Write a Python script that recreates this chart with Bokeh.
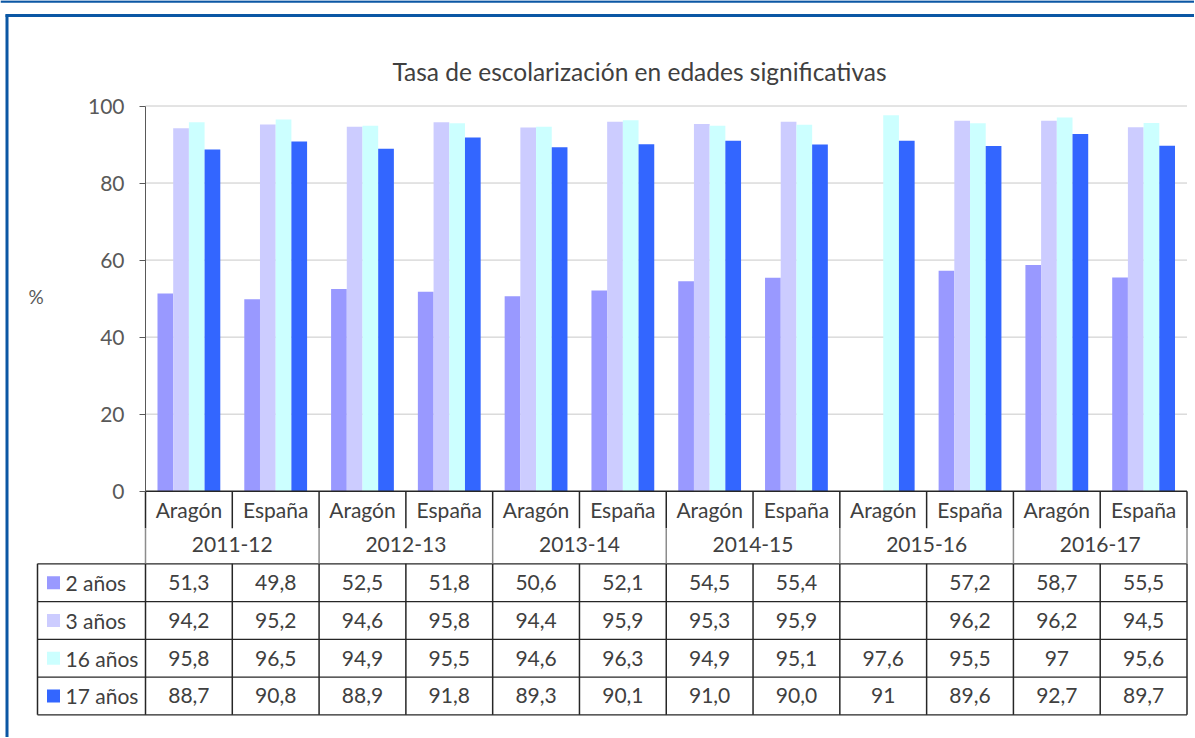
import math
from bokeh.plotting import figure
from bokeh.models import Range1d, LinearAxis, FixedTicker, Grid
from bokeh.core.properties import value
from bokeh.embed import file_html
from bokeh.resources import INLINE

# ---------------- data ----------------
title_text = "Tasa de escolarización en edades significativas"
y_label = "%"
years = ["2011-12", "2012-13", "2013-14", "2014-15", "2015-16", "2016-17"]
regions = ["Aragón", "España"]
series_names = ["2 años", "3 años", "16 años", "17 años"]
series_colors = ["#9999FF", "#CCCCFF", "#CCFFFF", "#3366FF"]
age2 = ["51,3", "49,8", "52,5", "51,8", "50,6", "52,1", "54,5", "55,4", "", "57,2", "58,7", "55,5"]
age3 = ["94,2", "95,2", "94,6", "95,8", "94,4", "95,9", "95,3", "95,9", "", "96,2", "96,2", "94,5"]
age16 = ["95,8", "96,5", "94,9", "95,5", "94,6", "96,3", "94,9", "95,1", "97,6", "95,5", "97", "95,6"]
age17 = ["88,7", "90,8", "88,9", "91,8", "89,3", "90,1", "91,0", "90,0", "91", "89,6", "92,7", "89,7"]
y_ticks = [0, 20, 40, 60, 80, 100]

series_text = [age2, age3, age16, age17]


def num(s):
    return float(s.replace(",", ".")) if s else float("nan")


series_vals = [[num(s) for s in row] for row in series_text]

# ---------------- layout (canvas pixels) ----------------
W, H = 1194, 737
X0_PX, X12_PX = 145.0, 1186.5      # canvas x of category edges 0 and 12
PXX = (X12_PX - X0_PX) / 12.0
Y0_PX, PXY = 490.7, 3.852           # canvas y of value 0, px per unit
x_start, x_end = -X0_PX / PXX, (W - X0_PX) / PXX
y_end, y_start = Y0_PX / PXY, -(H - Y0_PX) / PXY


def px2x(px):
    return x_start + px / PXX


def py2y(py):
    return y_end - py / PXY


FONT = value("Lato")
TXT = "#404040"
FS = "21px"

p = figure(width=W, height=H, x_range=Range1d(x_start, x_end), y_range=Range1d(y_start, y_end),
           output_backend="svg", toolbar_location=None, x_axis_location=None, y_axis_location=None,
           min_border=0)
p.outline_line_color = None
p.background_fill_color = "white"
p.border_fill_color = "white"
for g in p.select(type=Grid):
    g.visible = False

n_cat = len(years) * len(regions)

# blue frame
BLUE = "#0B57A4"
p.segment(x0=[px2x(0)], x1=[px2x(W)], y0=[py2y(1)], y1=[py2y(1)], line_color=BLUE, line_width=2.5)
p.segment(x0=[px2x(5)], x1=[px2x(W)], y0=[py2y(15)], y1=[py2y(15)], line_color=BLUE, line_width=3)
p.segment(x0=[px2x(6.5)], x1=[px2x(6.5)], y0=[py2y(14)], y1=[py2y(H)], line_color=BLUE, line_width=3)

# title
p.text(x=[px2x(639)], y=[py2y(71)], text=[title_text], text_font=FONT, text_font_size="24.5px",
       text_color=TXT, text_align="center", text_baseline="middle")

# gridlines
gt = [t for t in y_ticks if t > 0]
p.segment(x0=[0] * len(gt), x1=[n_cat] * len(gt), y0=gt, y1=gt, line_color="#C8C8C8", line_width=1)

# bars
bw = 15.7 / PXX
for k, (vals, col) in enumerate(zip(series_vals, series_colors)):
    xs = [i + 0.5 + (k - 1.5) * bw for i in range(n_cat)]
    p.vbar(x=xs, top=vals, bottom=0, width=bw, fill_color=col, line_color=None)

# y axis
ax = LinearAxis(fixed_location=0, ticker=FixedTicker(ticks=y_ticks), bounds=(0, 100),
                major_tick_out=6, major_tick_in=0, minor_tick_out=0, minor_tick_in=0,
                axis_line_color="#595959", major_tick_line_color="#595959",
                major_label_text_font="Lato", major_label_text_font_size=FS,
                major_label_text_color="#595959", major_label_standoff=15)
p.add_layout(ax, "left")

p.text(x=[px2x(28)], y=[py2y(296)], text=[y_label], text_font=FONT, text_font_size="19px",
       text_color="#595959", text_align="left", text_baseline="middle")

# ---------------- table ----------------
H1_PX = 527.7
H2_PX = 563.3
ROW_H = 37.75
row_edges = [py2y(H2_PX + r * ROW_H) for r in range(len(series_names) + 1)]
y_h1 = py2y(H1_PX)
y_h2 = py2y(H2_PX)
y_bot = row_edges[-1]
LEG_L = px2x(37)
DARK = "#262626"
GREY = "#8C8C8C"

# horizontal lines
p.segment(x0=[0], x1=[n_cat], y0=[0], y1=[0], line_color=DARK, line_width=1.5)
p.segment(x0=[LEG_L] * len(row_edges), x1=[n_cat] * len(row_edges), y0=row_edges, y1=row_edges,
          line_color=DARK, line_width=1.3)
# vertical lines
xs_full = [2 * j for j in range(len(years) + 1)]
p.segment(x0=xs_full, x1=xs_full, y0=[0] * len(xs_full), y1=[y_h1] * len(xs_full), line_color=DARK, line_width=1.5)
p.segment(x0=xs_full, x1=xs_full, y0=[y_h1] * len(xs_full), y1=[y_h2] * len(xs_full), line_color=GREY, line_width=1.5)
xs_in = [2 * j + 1 for j in range(len(years))]
p.segment(x0=xs_in, x1=xs_in, y0=[0] * len(xs_in), y1=[y_h1] * len(xs_in), line_color=DARK, line_width=1.5)
xs_all = list(range(n_cat + 1))
p.segment(x0=xs_all, x1=xs_all, y0=[y_h2] * len(xs_all), y1=[y_bot] * len(xs_all), line_color=DARK, line_width=1.5)
p.segment(x0=[LEG_L], x1=[LEG_L], y0=[y_h2], y1=[y_bot], line_color=DARK, line_width=1.5)

# header texts
p.text(x=[i + 0.5 for i in range(n_cat)], y=[(0 + y_h1) / 2] * n_cat,
       text=[regions[i % 2] for i in range(n_cat)], text_font=FONT, text_font_size=FS,
       text_color=TXT, text_align="center", text_baseline="middle")
p.text(x=[2 * j + 1 for j in range(len(years))], y=[(y_h1 + y_h2) / 2 + 0.3] * len(years),
       text=years, text_font=FONT, text_font_size=FS,
       text_color=TXT, text_align="center", text_baseline="middle")

# data rows
for r, (name, col, texts) in enumerate(zip(series_names, series_colors, series_text)):
    yc = (row_edges[r] + row_edges[r + 1]) / 2
    p.scatter(x=[px2x(53)], y=[yc], marker="square", size=13, fill_color=col, line_color=None)
    p.text(x=[px2x(65)], y=[yc], text=[name], text_font=FONT, text_font_size=FS,
           text_color=TXT, text_align="left", text_baseline="middle")
    p.text(x=[i + 0.5 for i in range(n_cat)], y=[yc] * n_cat, text=texts, text_font=FONT,
           text_font_size=FS, text_color=TXT, text_align="center", text_baseline="middle")

open("out.html", "w").write(file_html(p, INLINE))
